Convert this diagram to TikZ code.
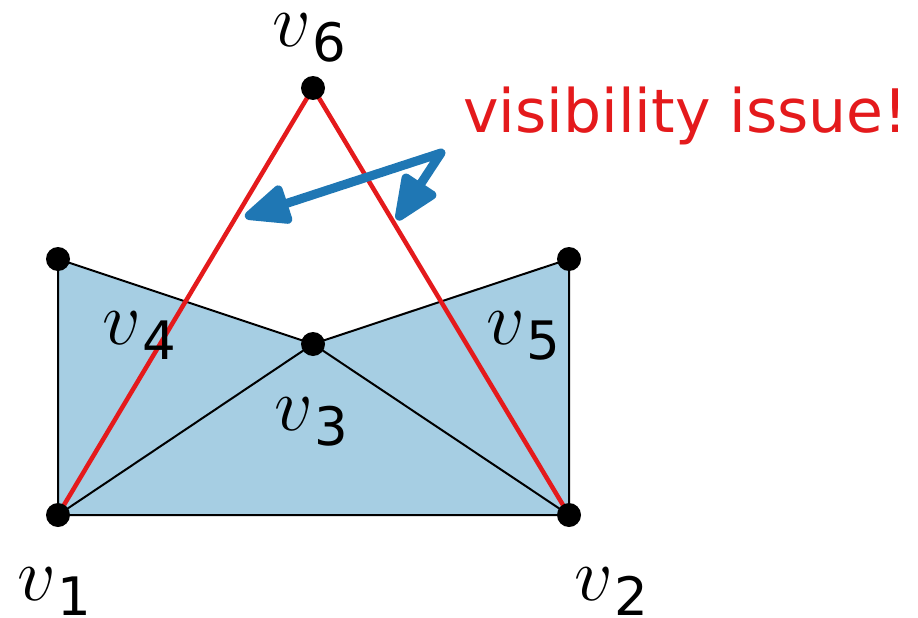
\RequirePackage{fix-cm}
\documentclass[tikz,border=0pt]{standalone}
\usepackage{fontspec}
\setsansfont{DejaVu Sans}
\usetikzlibrary{arrows.meta}
\definecolor{fillblue}{RGB}{166,206,227}
\definecolor{arrowblue}{RGB}{31,119,180}
\definecolor{redline}{RGB}{228,26,28}
\tikzset{
  vdot/.style={circle,fill=black,inner sep=0pt,minimum size=24pt},
  vlabel/.style={font=\fontsize{76}{80}\selectfont,inner sep=0pt,anchor=base west},
  edge/.style={draw=black,line width=2pt},
  rededge/.style={draw=redline,line width=4.5pt},
  warn/.style={font=\sffamily\fontsize{60}{70}\selectfont,text=redline,anchor=base west,inner sep=0pt},
  bluearrow/.style={draw=arrowblue,line width=9pt,line join=round,
    {Triangle[length=52pt,width=42pt,round]}-{Triangle[length=52pt,width=42pt,round]}}
}
\newcommand{\vsub}[1]{$v$\kern2pt\raisebox{-15pt}{\sffamily\fontsize{53}{60}\selectfont #1}}
\begin{document}
\begin{tikzpicture}[x=1pt,y=-1pt]
\useasboundingbox (0,0) rectangle (918,618);
\coordinate (p1) at (58,515);
\coordinate (p2) at (569,515);
\coordinate (p3) at (313,344);
\coordinate (p4) at (58,259);
\coordinate (p5) at (569,259);
\coordinate (p6) at (313,88);
\fill[fillblue] (p1) -- (p4) -- (p3) -- (p5) -- (p2) -- cycle;
\draw[edge] (p1) -- (p4) -- (p3) -- (p5) -- (p2) -- cycle;
\draw[edge] (p1) -- (p3) -- (p2);
\draw[rededge] (p1) -- (p6) -- (p2);
\foreach \i in {1,...,6} \node[vdot] (n\i) at (p\i) {};
\node[vlabel] (l1) at (17,600) {\vsub{1}};
\node[vlabel] (l2) at (574,600) {\vsub{2}};
\node[vlabel] (l3) at (274,430) {\vsub{3}};
\node[vlabel] (l4) at (102,344) {\vsub{4}};
\node[vlabel] (l5) at (486,344) {\vsub{5}};
\node[vlabel] (l6) at (272,47) {\vsub{6}};
\node[warn] (t) at (463,132) {visibility issue!};
\coordinate (a1) at (245,217);
\coordinate (ac) at (441,153);
\coordinate (a2) at (397,220);
\draw[bluearrow] (a1) -- (ac) -- (a2);
\end{tikzpicture}
\end{document}
